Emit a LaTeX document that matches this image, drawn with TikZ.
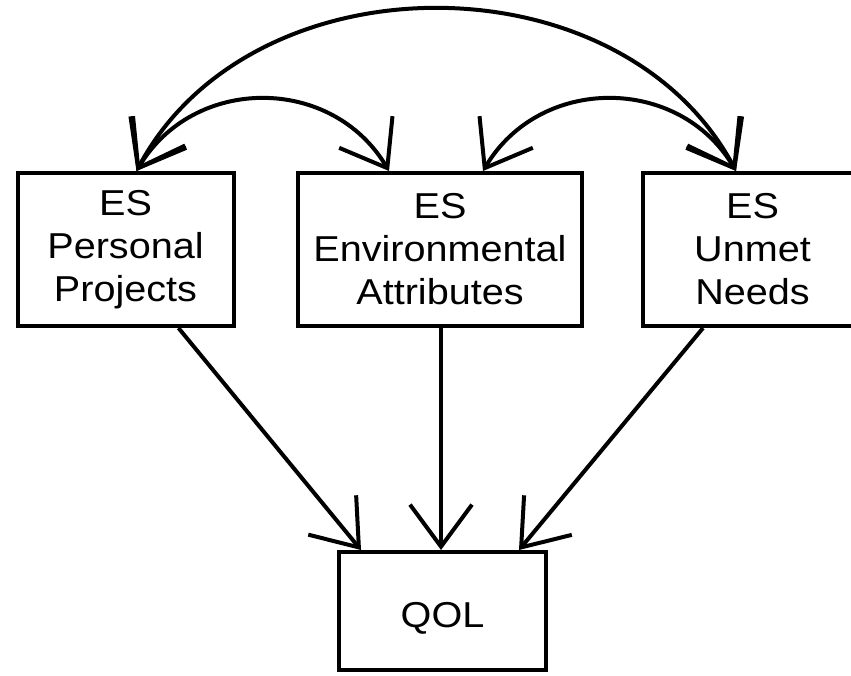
\documentclass[tikz,border=0pt]{standalone}
\usepackage{fontspec}
\setmainfont{Liberation Sans}[FakeStretch=1.1]
\usetikzlibrary{arrows.meta}
\begin{document}
\begin{tikzpicture}[x=1pt,y=-1pt,
  box/.style={draw, line width=4pt, inner sep=0pt, align=center,
    font=\fontsize{36}{43}\selectfont},
  conn/.style={line width=4pt, -{Straight Barb[length=42pt,width=62pt,sharp]}},
  biconn/.style={line width=4pt,
    {Straight Barb[length=42pt,width=62pt,sharp]}-{Straight Barb[length=42pt,width=62pt,sharp]}}]
\useasboundingbox[fill=white] (0,0) rectangle (851,675);
\node[box, minimum width=216pt, minimum height=153pt] (pp) at (125.5,249.5) {ES\\Personal\\Projects};
\node[box, minimum width=284pt, minimum height=153pt] (ea) at (440,249.5) {ES\\Environmental\\Attributes};
\node[box, minimum width=219pt, minimum height=153pt] (un) at (752.5,249.5) {ES\\Unmet\\Needs};
\node[box, minimum width=207pt, minimum height=118pt] (qol) at (442.5,611) {\raisebox{-7pt}[\height][\depth]{QOL}};
% arrow end points on the boxes
\coordinate (ppT) at ([xshift=121pt]pp.north west);
\coordinate (eaTL) at ([xshift=93pt]ea.north west);
\coordinate (eaTR) at ([xshift=187pt]ea.north west);
\coordinate (unT) at ([xshift=95pt]un.north west);
\coordinate (ppB) at ([xshift=163pt]pp.south west);
\coordinate (eaB) at ([xshift=1pt]ea.south);
\coordinate (unB) at ([xshift=62pt]un.south west);
\coordinate (qL) at ([xshift=24pt]qol.north west);
\coordinate (qM) at ([xshift=-1.5pt]qol.north);
\coordinate (qR) at ([xshift=182pt]qol.north west);
% correlations
\draw[biconn] (ppT) .. controls +(115,-216) and +(-115,-216) .. (unT);
\draw[biconn] (ppT) .. controls +(57,-96) and +(-57,-96) .. (eaTL);
\draw[biconn] (eaTR) .. controls +(57,-96) and +(-57,-96) .. (unT);
% paths to QOL
\draw[conn] (ppB) -- (qL);
\draw[conn] (eaB) -- (qM);
\draw[conn] (unB) -- (qR);
\end{tikzpicture}
\end{document}
